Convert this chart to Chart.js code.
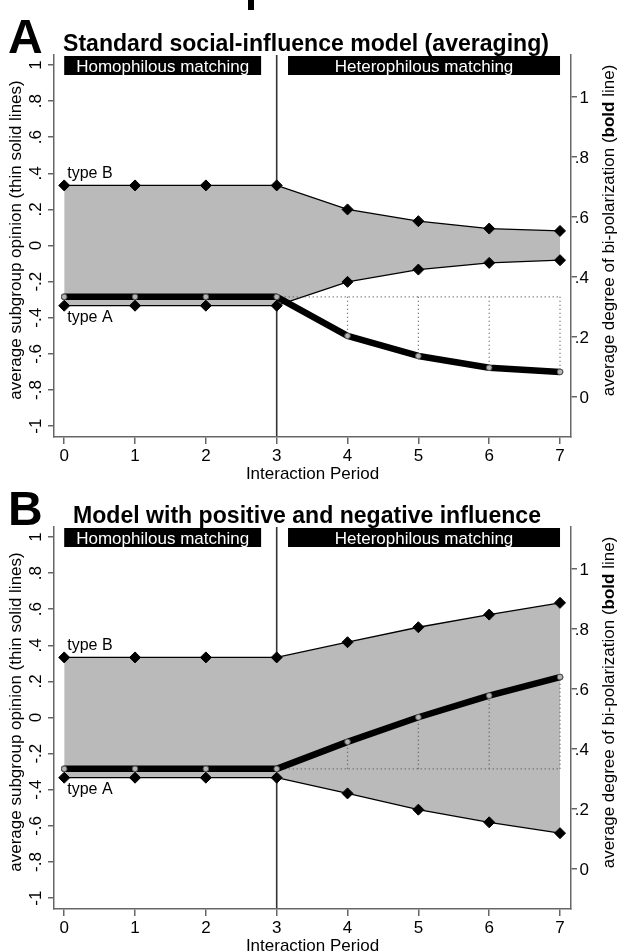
<!DOCTYPE html>
<html lang="en">
<head>
<meta charset="UTF-8">
<title>Bi-polarization under homophilous and heterophilous matching</title>
<script src="https://cdn.jsdelivr.net/npm/chart.js"></script>
<style>
  html, body { margin: 0; padding: 0; background: #fff; }
  #wrap { position: relative; width: 617px; height: 952px; overflow: hidden; }
  canvas { position: absolute; left: 0; }
</style>
</head>
<body>
<div id="wrap">
  <canvas id="panelA" width="617" height="480" style="top:0"></canvas>
  <canvas id="panelB" width="617" height="480" style="top:472px"></canvas>
</div>
<script>
// interaction periods (x axis)
const periods = [0, 1, 2, 3, 4, 5, 6, 7];
const switchPeriod = 3;

// left axis: average subgroup opinion
const leftTicks = [-1, -0.8, -0.6, -0.4, -0.2, 0, 0.2, 0.4, 0.6, 0.8, 1];
const leftTickLabels = ['-1', '-.8', '-.6', '-.4', '-.2', '0', '.2', '.4', '.6', '.8', '1'];
// right axis: average degree of bi-polarization
const rightTicks = [0, 0.2, 0.4, 0.6, 0.8, 1];
const rightTickLabels = ['0', '.2', '.4', '.6', '.8', '1'];

// panel A: standard social-influence model
const typeB_A = [0.333, 0.333, 0.333, 0.333, 0.200, 0.135, 0.094, 0.081];
const typeA_A = [-0.333, -0.333, -0.333, -0.333, -0.201, -0.133, -0.096, -0.081];
const polar_A = [0.333, 0.333, 0.333, 0.333, 0.203, 0.136, 0.097, 0.083];

// panel B: positive and negative influence
const typeB_B = [0.333, 0.333, 0.333, 0.333, 0.417, 0.500, 0.570, 0.635];
const typeA_B = [-0.333, -0.333, -0.333, -0.333, -0.420, -0.510, -0.580, -0.640];
const polar_B = [0.333, 0.333, 0.333, 0.333, 0.423, 0.505, 0.577, 0.639];

const phases = [
  { label: 'Homophilous matching', from: 0, to: 2.78 },
  { label: 'Heterophilous matching', from: 3.16, to: 7 }
];

const FONT = '"Liberation Sans", Arial, sans-serif';

function put(ctx, str, x, y, font, opts = {}) {
  ctx.save();
  ctx.font = font;
  ctx.fillStyle = opts.color || '#000';
  ctx.textAlign = opts.align || 'left';
  ctx.textBaseline = 'alphabetic';
  ctx.translate(x, y);
  if (opts.rot) ctx.rotate(opts.rot);
  if (opts.width) {
    const w = ctx.measureText(str).width;
    ctx.scale(opts.width / w, 1);
  }
  ctx.fillText(str, 0, 0);
  ctx.restore();
}

function pts(vals) {
  return periods.map((p, i) => ({ x: p, y: vals[i] }));
}

// dotted guides: baseline after the switch, and drops to the bold line
function guides(polar) {
  const k = periods.indexOf(switchPeriod);
  const base = polar[k];
  const out = [{ x: periods[k], y: base }, { x: periods[periods.length - 1], y: base }];
  for (let i = k + 1; i < periods.length; i++) {
    out.push({ x: periods[i], y: null });
    out.push({ x: periods[i], y: base });
    out.push({ x: periods[i], y: polar[i] });
  }
  return out;
}

function makePanel(id, letter, title, titleX, titleW, typeB, typeA, polar, fragment) {
  const decor = {
    id: 'decor' + letter,
    beforeDraw(chart) {
      const ctx = chart.ctx, a = chart.chartArea;
      const x = chart.scales.x.getPixelForValue(switchPeriod);
      ctx.save();
      ctx.strokeStyle = '#333';
      ctx.lineWidth = 1.6;
      ctx.beginPath();
      ctx.moveTo(x, a.top);
      ctx.lineTo(x, a.bottom);
      ctx.stroke();
      ctx.restore();
    },
    afterDraw(chart) {
      const ctx = chart.ctx, a = chart.chartArea;
      const sx = chart.scales.x, sy = chart.scales.y, sr = chart.scales.y2;
      // panel letter and title
      put(ctx, letter, 8, 53, 'bold 48px ' + FONT);
      put(ctx, title, titleX, 51, 'bold 23px ' + FONT, { width: titleW });
      if (fragment) {
        ctx.fillStyle = '#000';
        ctx.fillRect(248, 0, 6, 10);
      }
      // phase boxes
      phases.forEach(ph => {
        const x0 = sx.getPixelForValue(ph.from), x1 = sx.getPixelForValue(ph.to);
        ctx.fillStyle = '#000';
        ctx.fillRect(x0, a.top + 1, x1 - x0, 19);
        put(ctx, ph.label, (x0 + x1) / 2, a.top + 17, '17px ' + FONT, { align: 'center', color: '#fff' });
      });
      // left tick labels (rotated)
      leftTicks.forEach((v, i) => {
        put(ctx, leftTickLabels[i], 41, sy.getPixelForValue(v), '17px ' + FONT, { align: 'center', rot: -Math.PI / 2 });
      });
      put(ctx, 'average subgroup opinion (thin solid lines)', 21, 240, '17px ' + FONT, { align: 'center', rot: -Math.PI / 2 });
      // right tick labels
      rightTicks.forEach((v, i) => {
        put(ctx, rightTickLabels[i], 589, sr.getPixelForValue(v) + 6, '17px ' + FONT, { align: 'right' });
      });
      // right title with bold word
      const parts = [['average degree of bi-polarization (', '17px '], ['bold', 'bold 17px '], [' line)', '17px ']];
      ctx.save();
      let total = 0;
      parts.forEach(p => { ctx.font = p[1] + FONT; total += ctx.measureText(p[0]).width; });
      ctx.translate(614, 230.5);
      ctx.rotate(-Math.PI / 2);
      ctx.fillStyle = '#000';
      ctx.textBaseline = 'alphabetic';
      ctx.textAlign = 'left';
      let cx = -total / 2;
      parts.forEach(p => {
        ctx.font = p[1] + FONT;
        ctx.fillText(p[0], cx, 0);
        cx += ctx.measureText(p[0]).width;
      });
      ctx.restore();
      // x tick labels and title
      periods.forEach(p => {
        put(ctx, String(p), sx.getPixelForValue(p), 461, '17px ' + FONT, { align: 'center' });
      });
      put(ctx, 'Interaction Period', (a.left + a.right) / 2, 479, '17px ' + FONT, { align: 'center' });
      // subgroup labels
      put(ctx, 'type B', sx.getPixelForValue(periods[0]) + 3, sy.getPixelForValue(typeB[0]) - 7, '16px ' + FONT);
      put(ctx, 'type A', sx.getPixelForValue(periods[0]) + 3, sy.getPixelForValue(typeA[0]) + 16, '16px ' + FONT);
    }
  };

  const axisGrid = { drawOnChartArea: false, drawTicks: true, tickLength: 6, color: '#666', lineWidth: 1.5 };
  const axisBorder = { display: true, color: '#666', width: 1.5 };

  return new Chart(document.getElementById(id), {
    type: 'line',
    data: {
      datasets: [
        {
          data: pts(polar), yAxisID: 'y2',
          borderColor: '#000', borderWidth: 6.5, borderJoinStyle: 'round', borderCapStyle: 'round',
          pointRadius: 2.8, pointBackgroundColor: '#b4b4b4', pointBorderColor: '#555', pointBorderWidth: 1,
          fill: false, tension: 0
        },
        {
          data: guides(polar), yAxisID: 'y2',
          borderColor: '#555', borderWidth: 1.2, borderDash: [1, 3],
          pointRadius: 0, fill: false, spanGaps: false, tension: 0
        },
        {
          data: pts(typeB), yAxisID: 'y',
          borderColor: '#000', borderWidth: 1.3,
          pointStyle: 'rectRot', pointRadius: 5.5, pointBackgroundColor: '#000', pointBorderColor: '#000', pointBorderWidth: 1,
          fill: { target: '+1', above: '#bababa', below: '#bababa' }, tension: 0
        },
        {
          data: pts(typeA), yAxisID: 'y',
          borderColor: '#000', borderWidth: 1.3,
          pointStyle: 'rectRot', pointRadius: 5.5, pointBackgroundColor: '#000', pointBorderColor: '#000', pointBorderWidth: 1,
          fill: false, tension: 0
        }
      ]
    },
    options: {
      responsive: false,
      animation: false,
      devicePixelRatio: 1,
      events: [],
      layout: { padding: { top: 55, left: 0, right: 0, bottom: 0 } },
      plugins: {
        legend: { display: false },
        tooltip: { enabled: false },
        filler: { drawTime: 'beforeDatasetsDraw' }
      },
      scales: {
        x: {
          type: 'linear', min: -0.144, max: 7.155,
          afterBuildTicks: s => { s.ticks = periods.map(v => ({ value: v })); },
          afterFit: s => { s.height = 43; },
          ticks: { display: false },
          grid: Object.assign({}, axisGrid, { tickLength: 7 }),
          border: axisBorder
        },
        y: {
          position: 'left', min: -1.06, max: 1.055,
          afterBuildTicks: s => { s.ticks = leftTicks.map(v => ({ value: v })); },
          afterFit: s => { s.width = 54; },
          ticks: { display: false },
          grid: axisGrid,
          border: axisBorder
        },
        y2: {
          position: 'right', min: -0.134, max: 1.139,
          afterBuildTicks: s => { s.ticks = rightTicks.map(v => ({ value: v })); },
          afterFit: s => { s.width = 46; },
          ticks: { display: false },
          grid: axisGrid,
          border: axisBorder
        }
      }
    },
    plugins: [decor]
  });
}

makePanel('panelA', 'A', 'Standard social-influence model (averaging)', 63, 486, typeB_A, typeA_A, polar_A, true);
makePanel('panelB', 'B', 'Model with positive and negative influence', 73, 468, typeB_B, typeA_B, polar_B, false);
</script>
</body>
</html>
